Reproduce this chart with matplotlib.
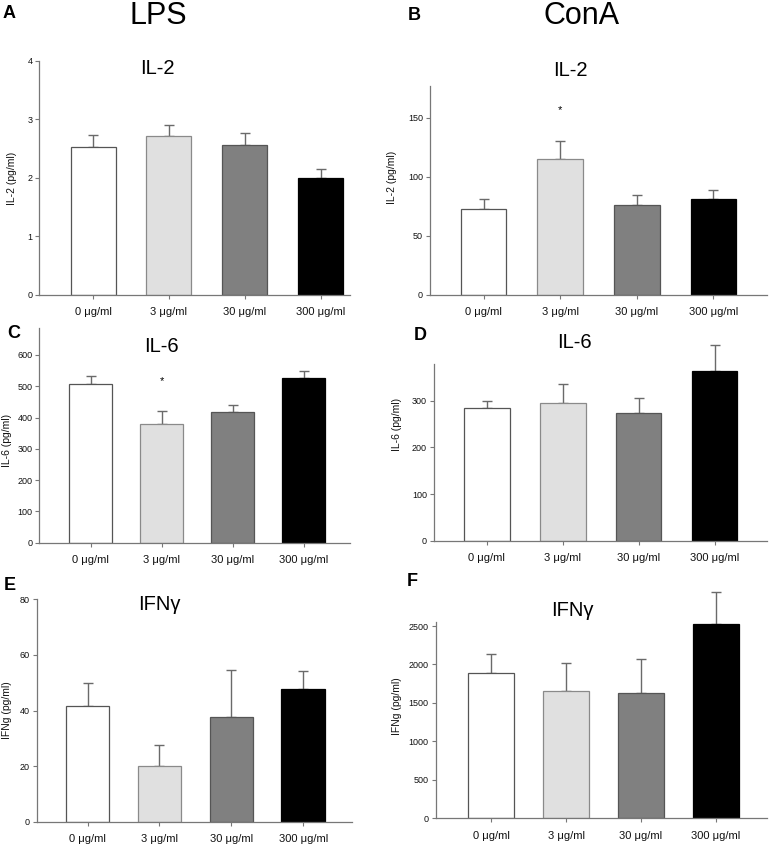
import matplotlib
matplotlib.use("Agg")
import matplotlib.pyplot as plt

plt.rcParams['font.family'] = ['Liberation Sans', 'DejaVu Sans']

categories = ["0 \u03bcg/ml", "3 \u03bcg/ml", "30 \u03bcg/ml", "300 \u03bcg/ml"]
bar_colors = ["#ffffff", "#e0e0e0", "#808080", "#000000"]
edge_colors = ["#555555", "#8a8a8a", "#555555", "#000000"]

# values (mean) and SEM
lps_il2 = [2.53, 2.72, 2.57, 1.99]
lps_il2_err = [0.20, 0.18, 0.19, 0.17]
cona_il2 = [72.9, 114.7, 75.8, 81.4]
cona_il2_err = [7.9, 15.8, 8.7, 7.6]
lps_il6 = [506, 379.5, 419, 526.5]
lps_il6_err = [28, 42.5, 22, 23.5]
cona_il6 = [283.6, 294, 273, 364]
cona_il6_err = [16.4, 41, 32, 55]
lps_ifng = [41.5, 19.9, 37.6, 47.9]
lps_ifng_err = [8.5, 7.6, 17.1, 6.4]
cona_ifng = [1893, 1659, 1633, 2522]
cona_ifng_err = [243, 356, 434, 424]

W, H = 770, 844
fig = plt.figure(figsize=(W / 100, H / 100), dpi=100)

def panel(left, right, y0, ytop, ymax, centers_px, bar_w_px, vals, errs, yticks,
          ylabel, ylab_x, ylab_y, title, tx, ty, letter, lx, ly, star=None):
    ax = fig.add_axes([left / W, 1 - y0 / H, (right - left) / W, (y0 - ytop) / H])
    sp = (centers_px[-1] - centers_px[0]) / 3.0
    x0 = -(centers_px[0] - left) / sp
    x1 = 3 + (right - centers_px[-1]) / sp
    xs = list(range(4))
    ax.bar(xs, vals, width=bar_w_px / sp, color=bar_colors, edgecolor=edge_colors,
           linewidth=0.9, zorder=2)
    eb = ax.errorbar(xs, vals, yerr=[[0] * 4, errs], fmt='none', ecolor='#6a6a6a',
                     elinewidth=1.0, capsize=3.5, capthick=1.0, zorder=1)
    for art in eb.lines[1]:
        art.set_clip_on(False)
    for art in eb.lines[2]:
        art.set_clip_on(False)
    ax.set_xlim(x0, x1)
    ax.set_ylim(0, ymax)
    ax.set_yticks(yticks)
    ax.set_xticks(xs)
    ax.set_xticklabels(categories, fontsize=8)
    ax.tick_params(axis='x', length=3, color='#777777', pad=6, labelcolor='#111111')
    ax.tick_params(axis='y', length=3, color='#777777', pad=2, labelsize=6.5, labelcolor='#111111')
    for s in ['top', 'right']:
        ax.spines[s].set_visible(False)
    for s in ['left', 'bottom']:
        ax.spines[s].set_color('#777777')
        ax.spines[s].set_linewidth(0.9)
    ax.patch.set_alpha(0)
    fig.text(ylab_x / W, 1 - ylab_y / H, ylabel, rotation=90, ha='center', va='center',
             fontsize=7.5, color='#111111')
    fig.text(tx / W, 1 - ty / H, title, ha='center', va='center', fontsize=14.5)
    fig.text(lx / W, 1 - ly / H, letter, ha='center', va='center', fontsize=13,
             fontweight='bold')
    if star is not None:
        ax.text(star[0], star[1], "*", ha='center', va='center', fontsize=8)
    return ax

panel(39.3, 350, 294.7, 61, 4, [93.2, 169.2, 245.2, 320.5], 45, lps_il2, lps_il2_err,
      [0, 1, 2, 3, 4], "IL-2 (pg/ml)", 12, 178, "IL-2", 157, 68, "A", 9, 14)
panel(430, 767, 294.7, 86, 177, [483.5, 560, 636.5, 713.3], 45.6, cona_il2, cona_il2_err,
      [0, 50, 100, 150], "IL-2 (pg/ml)", 392, 177, "IL-2", 570, 70, "B", 414, 15,
      star=(1, 157))
panel(39.3, 350, 542.7, 328.3, 685, [90.5, 161.3, 232.5, 303.5], 43, lps_il6, lps_il6_err,
      [0, 100, 200, 300, 400, 500, 600], "IL-6 (pg/ml)", 7, 440, "IL-6", 161, 347,
      "C", 14, 334, star=(1, 515))
panel(434, 766.7, 540.7, 364, 378.6, [486.8, 562.7, 638.5, 714.5], 45.6, cona_il6,
      cona_il6_err, [0, 100, 200, 300], "IL-6 (pg/ml)", 397, 424, "IL-6", 574, 342,
      "D", 420, 336)
panel(36.7, 351.7, 821.7, 599.3, 80, [87.5, 159.2, 230.8, 303.3], 43.7, lps_ifng,
      lps_ifng_err, [0, 20, 40, 60, 80], "IFNg (pg/ml)", 7, 710, "IFN\u03b3", 159, 604,
      "E", 10, 585)
panel(435.7, 766.7, 818.3, 621.7, 2556, [491, 566, 641, 716], 45.4, cona_ifng,
      cona_ifng_err, [0, 500, 1000, 1500, 2000, 2500], "IFNg (pg/ml)", 397, 706,
      "IFN\u03b3", 572, 610, "F", 412, 582)

fig.text(158 / W, 1 - 16 / H, "LPS", ha='center', va='center', fontsize=22)
fig.text(582 / W, 1 - 16 / H, "ConA", ha='center', va='center', fontsize=22)

fig.savefig("out.png", dpi=100)
